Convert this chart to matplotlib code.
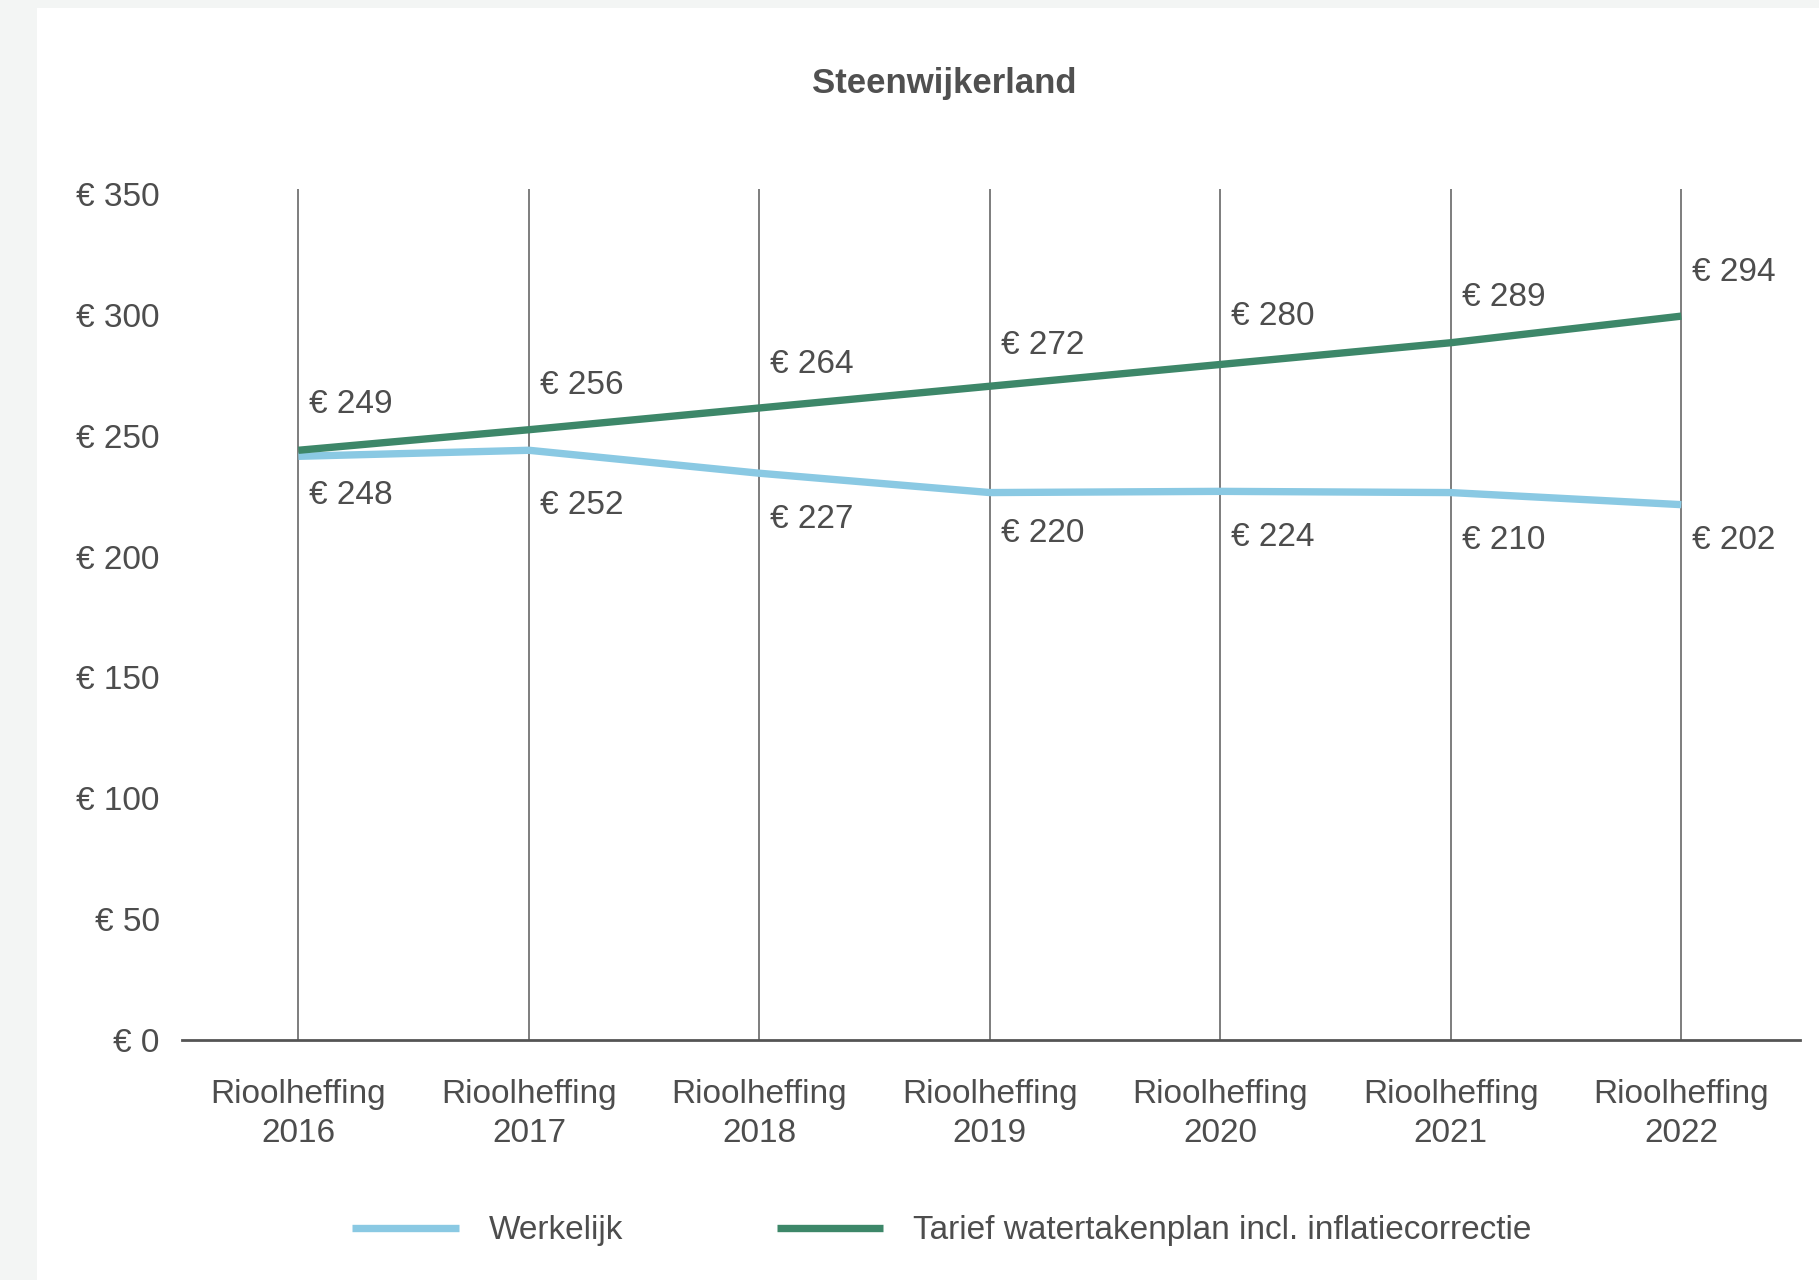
import matplotlib.pyplot as plt
from matplotlib.patches import Rectangle

# data
years = ["2016", "2017", "2018", "2019", "2020", "2021", "2022"]
tick_labels = ["Rioolheffing\n" + y for y in years]

# line heights as drawn in the source chart
werkelijk_line = [241.5, 244, 234.5, 226.5, 227, 226.5, 221.5]
tarief_line = [244, 252.5, 261.5, 270.5, 279.5, 288.5, 299.5]

# value labels as printed in the source chart
werkelijk_labels = [248, 252, 227, 220, 224, 210, 202]
tarief_labels = [249, 256, 264, 272, 280, 289, 294]

y_ticks = [0, 50, 100, 150, 200, 250, 300, 350]

# vertical nudges (pixels) of the value labels
tarief_dy = [46, 44, 43, 41, 48, 45, 44]
werkelijk_dy = [-39, -55, -46, -41, -46, -48, -36]

text_color = "#4d4d4d"
blue = "#8ac9e3"
green = "#3d8769"

plt.rcParams['font.family'] = ['Liberation Sans', 'DejaVu Sans']


def main():
    fig = plt.figure(figsize=(18.19, 12.80), dpi=100)
    fig.patch.set_facecolor("white")
    # grey page edges
    fig.patches.append(Rectangle((0, 0), 37 / 1819, 1, transform=fig.transFigure,
                                 facecolor="#f3f5f4", edgecolor="none", zorder=0))
    fig.patches.append(Rectangle((0, 1 - 8 / 1280), 1, 8 / 1280, transform=fig.transFigure,
                                 facecolor="#f3f5f4", edgecolor="none", zorder=0))

    ax = fig.add_axes([182 / 1819, 240 / 1280, 1618 / 1819, 851 / 1280])
    x = range(len(years))

    ax.plot(x, werkelijk_line, color=blue, lw=5.3, solid_capstyle="butt", label="Werkelijk", zorder=3)
    ax.plot(x, tarief_line, color=green, lw=5.3, solid_capstyle="butt",
            label="Tarief watertakenplan incl. inflatiecorrectie", zorder=3)

    for i in x:
        ax.annotate(f"€ {tarief_labels[i]}", (i, tarief_line[i]), xytext=(11, tarief_dy[i]),
                    textcoords="offset pixels", ha="left", va="center",
                    fontsize=24, color=text_color)
        ax.annotate(f"€ {werkelijk_labels[i]}", (i, werkelijk_line[i]), xytext=(11, werkelijk_dy[i]),
                    textcoords="offset pixels", ha="left", va="center",
                    fontsize=24, color=text_color)

    ax.set_xlim(-0.505, 6.515)
    ax.set_ylim(0, 352.1)
    ax.set_xticks(list(x))
    ax.set_xticklabels(tick_labels, fontsize=24, color=text_color, linespacing=1.35)
    ax.set_yticks(y_ticks)
    ax.set_yticklabels([f"€ {v}" for v in y_ticks], fontsize=24, color=text_color)
    ax.tick_params(axis="both", length=0)
    ax.tick_params(axis="x", pad=28)
    ax.tick_params(axis="y", pad=16)

    ax.grid(axis="x", color="#5a5a5a", lw=1.1)
    ax.set_axisbelow(True)
    for side in ["top", "right", "left"]:
        ax.spines[side].set_visible(False)
    ax.spines["bottom"].set_color("#555555")
    ax.spines["bottom"].set_linewidth(2)

    fig.text(944 / 1819, 1 - 83 / 1280, "Steenwijkerland", ha="center", va="center",
             fontsize=25, fontweight="bold", color="#505050")

    leg = fig.legend(loc="center", bbox_to_anchor=(942 / 1819, 1 - 1231 / 1280), ncol=2,
                     frameon=False, fontsize=24, handlelength=3.2, handletextpad=0.9,
                     columnspacing=4.6)
    for t in leg.get_texts():
        t.set_color(text_color)

    plt.savefig("out.png", dpi=100)
    plt.close()


if __name__ == "__main__":
    main()
